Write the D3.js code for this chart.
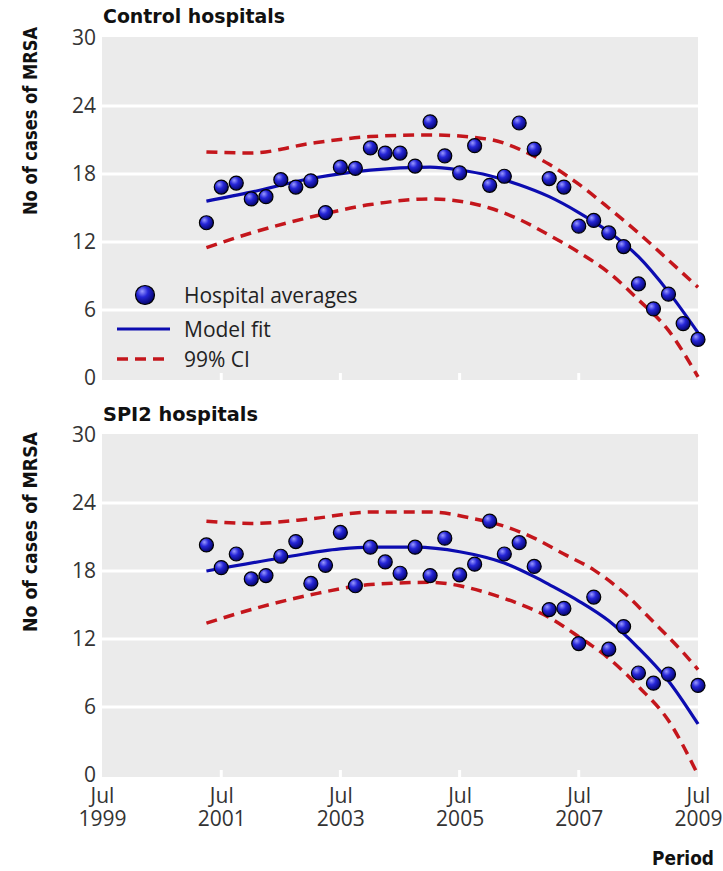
<!DOCTYPE html>
<html><head><meta charset="utf-8">
<script src="https://cdn.jsdelivr.net/npm/d3@7"></script>
<style>body{margin:0;background:#fff;} svg{display:block;}</style>
</head><body><svg id="c" width="723" height="871"></svg>
<script>
// ---------- data ----------
const quarters = ["2001-04","2001-07","2001-10","2002-01","2002-04","2002-07","2002-10","2003-01",
  "2003-04","2003-07","2003-10","2004-01","2004-04","2004-07","2004-10","2005-01","2005-04","2005-07",
  "2005-10","2006-01","2006-04","2006-07","2006-10","2007-01","2007-04","2007-07","2007-10","2008-01",
  "2008-04","2008-07","2008-10","2009-01","2009-04","2009-07"];
const controlValues = [13.7,16.85,17.2,15.8,16.0,17.5,16.85,17.4,14.6,18.6,18.5,20.3,19.85,19.85,18.7,22.6,
  19.6,18.1,20.5,17.0,17.8,22.5,20.2,17.6,16.85,13.4,13.9,12.8,11.6,8.3,6.1,7.4,4.8,3.4];
const spi2Values = [20.3,18.3,19.5,17.3,17.6,19.3,20.6,16.9,18.5,21.4,16.7,20.1,18.8,17.8,20.1,17.6,
  20.9,17.65,18.6,22.4,19.5,20.5,18.4,14.6,14.7,11.6,15.7,11.1,13.1,9.0,8.1,8.9,null,7.9];

const controlFitDates = ["2001-04","2002-01","2003-01","2004-01","2005-01","2005-07","2006-01","2006-07","2007-01","2007-07","2008-01","2008-07","2009-01","2009-07"];
const controlFit      = [15.6,16.4,17.6,18.35,18.6,18.35,17.85,17.05,16.0,14.6,12.9,10.7,7.6,4.0];
const controlUpperDates = ["2001-04","2002-01","2003-01","2004-01","2005-01","2006-01","2006-07","2007-01","2007-07","2008-01","2008-07","2009-01","2009-07"];
const controlUpper      = [19.95,19.85,20.7,21.3,21.45,21.05,20.2,18.85,17.1,15.0,12.8,10.4,8.0];
const controlLowerDates = ["2001-04","2002-01","2003-01","2004-01","2005-01","2005-07","2006-01","2006-07","2007-01","2007-07","2008-01","2008-07","2009-01","2009-07"];
const controlLower      = [11.5,12.8,14.2,15.3,15.8,15.6,15.0,14.0,12.6,11.1,9.3,6.9,4.2,0.1];

const spi2FitDates = ["2001-04","2002-07","2003-07","2004-01","2004-10","2005-07","2006-04","2006-10","2007-01","2007-07","2008-01","2008-07","2009-01","2009-07"];
const spi2Fit      = [18.0,19.15,19.95,20.1,20.1,19.7,18.7,17.5,16.8,15.35,13.6,11.2,8.3,4.5];
const spi2UpperDates = ["2001-04","2002-01","2003-01","2004-01","2005-01","2005-10","2006-04","2006-10","2007-04","2007-10","2008-04","2008-10","2009-04","2009-07"];
const spi2Upper      = [22.4,22.2,22.6,23.2,23.2,22.6,21.95,20.9,19.5,18.1,16.1,13.5,10.8,9.3];
const spi2LowerDates = ["2001-04","2002-01","2003-01","2004-01","2005-01","2005-07","2006-01","2006-07","2007-01","2007-07","2008-01","2008-07","2009-01","2009-07"];
const spi2Lower      = [13.4,14.6,15.9,16.8,17.0,16.7,16.0,15.1,13.9,12.2,10.3,7.8,4.8,0.0];

const yTicks = [0,6,12,18,24,30];
const xTickDates = ["1999-07","2001-07","2003-07","2005-07","2007-07","2009-07"];
const xTickMonth = "Jul";
const panelTitles = ["Control hospitals","SPI2 hospitals"];
const yLabel = "No of cases of MRSA";
const xLabel = "Period";
const legendLabels = ["Hospital averages","Model fit","99% CI"];

// ---------- setup ----------
const parse = d3.timeParse("%Y-%m");
const svg = d3.select("#c");
const defs = svg.append("defs");
const grad = defs.append("radialGradient").attr("id","ball")
  .attr("cx","38%").attr("cy","35%").attr("r","65%").attr("fx","35%").attr("fy","30%");
grad.append("stop").attr("offset","0%").attr("stop-color","#9a9aff");
grad.append("stop").attr("offset","45%").attr("stop-color","#2626d8");
grad.append("stop").attr("offset","100%").attr("stop-color","#05056e");

const x = d3.scaleTime().domain([parse("1999-07"), parse("2009-07")]).range([102, 698]);

const tickFont = "'Open Sans', 'DejaVu Sans', sans-serif";
const boldFont = "'DejaVu Sans', sans-serif";
const BLUE = "#0c0cb0", RED = "#c4161c";

const panels = [
  {top: 38, bottom: 378, title: panelTitles[0], titleY: 23, labelCY: 121, labelLen: 188, values: controlValues,
   fit: [controlFitDates, controlFit], up: [controlUpperDates, controlUpper], lo: [controlLowerDates, controlLower], legend: true},
  {top: 435, bottom: 775, title: panelTitles[1], titleY: 421, labelCY: 532, labelLen: 200, values: spi2Values,
   fit: [spi2FitDates, spi2Fit], up: [spi2UpperDates, spi2Upper], lo: [spi2LowerDates, spi2Lower], legend: false}
];

panels.forEach((p, pi) => {
  const y = d3.scaleLinear().domain([0, 30]).range([p.bottom, p.top]);
  const g = svg.append("g");

  // background
  g.append("rect").attr("x", x.range()[0]).attr("y", y(30) - 1)
    .attr("width", x.range()[1] - x.range()[0]).attr("height", y(0) - y(30) + 3)
    .attr("fill", "#ebebeb");
  // gridlines
  g.selectAll("line.grid").data(yTicks.filter(d => d > 0 && d < 30)).join("line")
    .attr("x1", x.range()[0]).attr("x2", x.range()[1])
    .attr("y1", d => y(d)).attr("y2", d => y(d))
    .attr("stroke", "#fff").attr("stroke-width", 3);
  // small white ticks at bottom
  g.selectAll("line.xt").data(xTickDates.slice(1, -1)).join("line")
    .attr("x1", d => x(parse(d))).attr("x2", d => x(parse(d)))
    .attr("y1", y(0) - 5).attr("y2", y(0) + 2)
    .attr("stroke", "#fff").attr("stroke-width", 3);

  // y axis
  const ya = g.append("g").attr("transform", `translate(${x.range()[0]},0)`)
    .call(d3.axisLeft(y).tickValues(yTicks).tickSize(0).tickPadding(6));
  ya.select(".domain").remove();
  ya.selectAll("text").attr("font-family", tickFont).attr("font-size", 21).attr("fill", "#333");

  // title
  g.append("text").attr("x", 103).attr("y", p.titleY).text(p.title)
    .attr("font-family", boldFont).attr("font-weight", "bold").attr("font-size", 20)
    .attr("textLength", pi === 0 ? 182 : 155).attr("lengthAdjust", "spacingAndGlyphs").attr("fill", "#111");

  // y label
  g.append("text").attr("transform", `translate(37,${p.labelCY}) rotate(-90)`)
    .attr("text-anchor", "middle").text(yLabel)
    .attr("font-family", boldFont).attr("font-weight", "bold").attr("font-size", 20)
    .attr("textLength", p.labelLen).attr("lengthAdjust", "spacingAndGlyphs").attr("fill", "#111");

  // lines
  const line = d3.line().x(d => x(d[0])).y(d => y(d[1])).curve(d3.curveMonotoneX);
  const mk = arr => arr[0].map((dt, i) => [parse(dt), arr[1][i]]);
  g.append("path").datum(mk(p.up)).attr("d", line).attr("fill", "none")
    .attr("stroke", RED).attr("stroke-width", 3.5).attr("stroke-dasharray", "11,7");
  g.append("path").datum(mk(p.lo)).attr("d", line).attr("fill", "none")
    .attr("stroke", RED).attr("stroke-width", 3.5).attr("stroke-dasharray", "11,7");
  g.append("path").datum(mk(p.fit)).attr("d", line).attr("fill", "none")
    .attr("stroke", BLUE).attr("stroke-width", 3.2);

  // points
  const pts = quarters.map((q, i) => [parse(q), p.values[i]]).filter(d => d[1] != null);
  g.selectAll("circle.pt").data(pts).join("circle")
    .attr("cx", d => x(d[0])).attr("cy", d => y(d[1])).attr("r", 7)
    .attr("fill", "url(#ball)").attr("stroke", "#000").attr("stroke-width", 1.2);

  if (p.legend) {
    const lg = g.append("g");
    lg.append("circle").attr("cx", 145).attr("cy", 295).attr("r", 9.5)
      .attr("fill", "url(#ball)").attr("stroke", "#000").attr("stroke-width", 1.2);
    lg.append("line").attr("x1", 117).attr("x2", 170).attr("y1", 329).attr("y2", 329)
      .attr("stroke", BLUE).attr("stroke-width", 3.2);
    lg.append("line").attr("x1", 117).attr("x2", 170).attr("y1", 359).attr("y2", 359)
      .attr("stroke", RED).attr("stroke-width", 3.5).attr("stroke-dasharray", "11,7");
    lg.selectAll("text").data(legendLabels).join("text")
      .attr("x", 184).attr("y", (d, i) => [295, 329, 359][i]).attr("dy", "0.36em")
      .text(d => d).attr("font-family", tickFont).attr("font-size", 21).attr("fill", "#222");
  }

  if (pi === 1) {
    const xa = g.append("g").attr("transform", `translate(0,${y(0)})`)
      .call(d3.axisBottom(x).tickValues(xTickDates.map(parse)).tickSize(0).tickPadding(0)
        .tickFormat(d3.timeFormat("%Y")));
    xa.select(".domain").remove();
    xa.selectAll(".tick text").each(function(d) {
      const t = d3.select(this);
      const yr = t.text();
      t.text(null).attr("dy", null).attr("y", null)
        .attr("font-family", tickFont).attr("font-size", 21).attr("fill", "#333");
      t.append("tspan").attr("x", 0).attr("y", 28).text(xTickMonth);
      t.append("tspan").attr("x", 0).attr("y", 51).text(yr);
    });
  }
});

svg.append("text").attr("x", 714).attr("y", 865).attr("text-anchor", "end").text(xLabel)
  .attr("font-family", boldFont).attr("font-weight", "bold").attr("font-size", 19)
  .attr("textLength", 62).attr("lengthAdjust", "spacingAndGlyphs").attr("fill", "#111");
</script>
</body></html>
